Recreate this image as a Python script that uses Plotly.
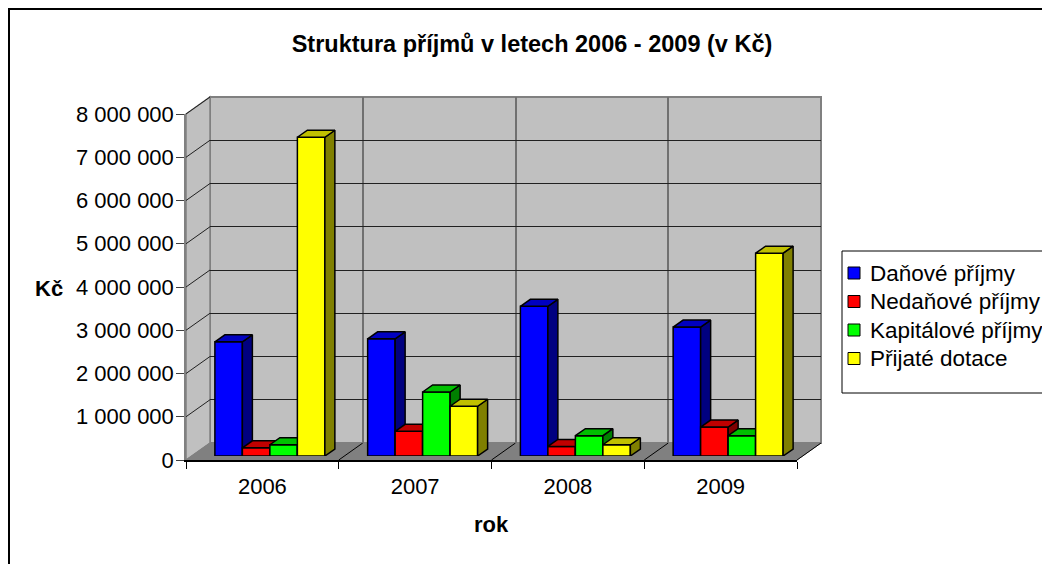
import plotly.graph_objects as go

# ---------------- data ----------------
years = ["2006", "2007", "2008", "2009"]
series_names = ["Daňové příjmy", "Nedaňové příjmy", "Kapitálové příjmy", "Přijaté dotace"]
danove = [2640000, 2710000, 3460000, 2980000]
nedanove = [190000, 570000, 220000, 670000]
kapitalove = [260000, 1480000, 470000, 470000]
dotace = [7370000, 1150000, 260000, 4690000]
y_ticks = [0, 1000000, 2000000, 3000000, 4000000, 5000000, 6000000, 7000000, 8000000]
y_tick_text = [f"{v:,}".replace(",", " ") for v in y_ticks]
series_values = [danove, nedanove, kapitalove, dotace]

front_colors = ["#0000FF", "#FF0000", "#00FF00", "#FFFF00"]
top_colors = ["#0000C0", "#C00000", "#00C000", "#C0C000"]
side_colors = ["#000080", "#800000", "#008000", "#808000"]

# ---------------- layout geometry (pixels) ----------------
W, H = 1042, 564
FONT = "Liberation Sans, Arial, sans-serif"


def px(x):
    return x / W


def py(y):
    return 1 - y / H


FX0, FX1, FYB, FYT = 186, 797, 460, 114     # front plane of the 3D box
DX, DY = 24, 17                              # wall depth
BSX, BSY = 7.5, 4                            # bar front plane shift
BDX, BDY = 10, 7                             # bar depth
YMAX = y_ticks[-1]
ncat = len(years)
XR = [-0.5, ncat - 0.5]
bounds = [i - 0.5 for i in range(ncat + 1)]

ux = (XR[1] - XR[0]) / (FX1 - FX0)
uy = YMAX / (FYB - FYT)
ddx, ddy = BDX * ux, BDY * uy
bargap = 0.28
bw = (1 - bargap) / len(series_values)

fig = go.Figure()
# back wall subplot and front axis subplot (dummy traces)
fig.add_trace(go.Scatter(x=[None], y=[None], xaxis="x", yaxis="y", showlegend=False, hoverinfo="skip"))
fig.add_trace(go.Scatter(x=[None], y=[None], xaxis="x2", yaxis="y2", showlegend=False, hoverinfo="skip"))

for k, vals in enumerate(series_values):
    xa, ya = f"x{3 + k}", f"y{3 + k}"
    off = (k - len(series_values) / 2) * bw
    fig.add_trace(go.Bar(
        x=list(range(ncat)), y=vals, name=series_names[k], xaxis=xa, yaxis=ya,
        width=bw, offset=off, showlegend=False,
        marker=dict(color=front_colors[k], line=dict(color="black", width=1.5)),
        hovertemplate="%{y:,}<extra>" + series_names[k] + "</extra>",
    ))
    sx, sy, tx, ty = [], [], [], []
    for i, v in enumerate(vals):
        xl = i + off
        xr = xl + bw
        sx += [xr, xr + ddx, xr + ddx, xr, xr, None]
        sy += [0, ddy, v + ddy, v, 0, None]
        tx += [xl, xr, xr + ddx, xl + ddx, xl, None]
        ty += [v, v, v + ddy, v + ddy, v, None]
    fig.add_trace(go.Scatter(x=sx, y=sy, xaxis=xa, yaxis=ya, mode="lines", fill="toself",
                             fillcolor=side_colors[k], line=dict(color="black", width=1.5),
                             showlegend=False, hoverinfo="skip"))
    fig.add_trace(go.Scatter(x=tx, y=ty, xaxis=xa, yaxis=ya, mode="lines", fill="toself",
                             fillcolor=top_colors[k], line=dict(color="black", width=1.5),
                             showlegend=False, hoverinfo="skip"))

layout_axes = {}
layout_axes["xaxis"] = dict(domain=[px(FX0 + DX), px(FX1 + DX)], anchor="y", range=XR,
                            tickvals=bounds, showgrid=True, gridcolor="#707070", gridwidth=1.5,
                            showticklabels=False, ticks="", zeroline=False, showline=False)
layout_axes["yaxis"] = dict(domain=[py(FYB - DY), py(FYT - DY)], anchor="x", range=[0, YMAX],
                            tickvals=y_ticks, showgrid=True, gridcolor="#202020", gridwidth=1,
                            showticklabels=False, ticks="", zeroline=False, showline=False)
layout_axes["xaxis2"] = dict(domain=[px(FX0), px(FX1)], anchor="y2", range=XR,
                             tickvals=list(range(ncat)), ticktext=years, ticks="",
                             showline=True, linecolor="black", linewidth=1.5,
                             minor=dict(tickvals=bounds, ticks="outside", ticklen=7,
                                        tickcolor="black", tickwidth=1, showgrid=False),
                             showgrid=False, zeroline=False, ticklabelstandoff=6,
                             tickfont=dict(size=22, color="black"))
layout_axes["yaxis2"] = dict(domain=[py(FYB), py(FYT)], anchor="x2", range=[0, YMAX],
                             tickvals=y_ticks, ticktext=y_tick_text, ticks="outside",
                             ticklen=8, tickcolor="#404040", tickwidth=1,
                             showline=True, linecolor="#808080", linewidth=1.5,
                             showgrid=False, zeroline=False, ticklabelstandoff=-2,
                             tickfont=dict(size=22, color="black"))
for k in range(len(series_values)):
    n = 3 + k
    xd = dict(anchor=f"y{n}", range=XR, visible=False)
    yd = dict(anchor=f"x{n}", range=[0, YMAX], visible=False)
    if k == 0:
        xd["domain"] = [px(FX0 + BSX), px(FX1 + BSX)]
        yd["domain"] = [py(FYB - BSY), py(FYT - BSY)]
    else:
        xd["overlaying"] = "x3"
        yd["overlaying"] = "y3"
    layout_axes[f"xaxis{n}"] = xd
    layout_axes[f"yaxis{n}"] = yd


def path(points):
    return "M " + " L ".join(f"{px(x)},{py(y)}" for x, y in points) + " Z"


shapes = [
    dict(type="rect", xref="paper", yref="paper", x0=px(9), y0=py(9), x1=px(1070), y1=py(600),
         line=dict(color="black", width=2), fillcolor="white", layer="below"),
    dict(type="rect", xref="paper", yref="paper", x0=px(FX0 + DX), y0=py(FYB - DY),
         x1=px(FX1 + DX), y1=py(FYT - DY), fillcolor="#C0C0C0",
         line=dict(color="#808080", width=2), layer="below"),
    dict(type="path", xref="paper", yref="paper",
         path=path([(FX0, FYT), (FX0 + DX, FYT - DY), (FX0 + DX, FYB - DY), (FX0, FYB)]),
         fillcolor="#C0C0C0", line=dict(color="#808080", width=1.5), layer="below"),
    dict(type="path", xref="paper", yref="paper",
         path=path([(FX0, FYB), (FX1, FYB), (FX1 + DX, FYB - DY), (FX0 + DX, FYB - DY)]),
         fillcolor="#808080", line=dict(color="#808080", width=1), layer="below"),
]
step_y = (FYB - FYT) / (len(y_ticks) - 1)
for j in range(1, len(y_ticks)):
    yf = FYB - j * step_y
    shapes.append(dict(type="line", xref="paper", yref="paper", x0=px(FX0), y0=py(yf),
                       x1=px(FX0 + DX), y1=py(yf - DY), line=dict(color="#202020", width=1),
                       layer="below"))
step_x = (FX1 - FX0) / ncat
for j in range(1, ncat + 1):
    xf = FX0 + j * step_x
    shapes.append(dict(type="line", xref="paper", yref="paper", x0=px(xf), y0=py(FYB),
                       x1=px(xf + DX), y1=py(FYB - DY), line=dict(color="black", width=1),
                       layer="below"))

# ---------------- legend (drawn as box + swatches + real text) ----------------
LX0, LY0, LY1 = 842, 251, 393
row_h = 28.5
row0 = 273
shapes.append(dict(type="rect", xref="paper", yref="paper", x0=px(LX0), y0=py(LY0),
                   x1=px(1080), y1=py(LY1), line=dict(color="black", width=1),
                   fillcolor="white", layer="above"))
annotations = []
for k, name in enumerate(series_names):
    yc = row0 + k * row_h
    shapes.append(dict(type="rect", xref="paper", yref="paper", x0=px(848), y0=py(yc - 6),
                       x1=px(860), y1=py(yc + 6), line=dict(color="black", width=1),
                       fillcolor=front_colors[k], layer="above"))
    annotations.append(dict(text=name, xref="paper", yref="paper", x=px(868), y=py(yc),
                            xanchor="left", yanchor="middle", showarrow=False,
                            font=dict(size=22.5, color="black")))

annotations += [
    dict(text="<b>Kč</b>", xref="paper", yref="paper", x=px(48.5), y=py(288),
         xanchor="center", yanchor="middle", showarrow=False, font=dict(size=22, color="black")),
    dict(text="<b>rok</b>", xref="paper", yref="paper", x=px(491), y=py(524),
         xanchor="center", yanchor="middle", showarrow=False, font=dict(size=22, color="black")),
]

fig.update_layout(
    width=W, height=H,
    margin=dict(l=0, r=0, t=0, b=0, autoexpand=False),
    paper_bgcolor="white", plot_bgcolor="rgba(0,0,0,0)",
    font=dict(family=FONT, size=22, color="black"),
    title=dict(text="<b>Struktura příjmů v letech 2006 - 2009 (v Kč)</b>", x=px(532), y=py(44),
               xanchor="center", yanchor="middle", xref="paper", yref="paper",
               font=dict(size=23.5, color="black")),
    shapes=shapes, annotations=annotations, showlegend=False,
    **layout_axes,
)

fig.write_html("out.html", config={"displayModeBar": False},
               post_script="document.body.style.margin='0px';")
